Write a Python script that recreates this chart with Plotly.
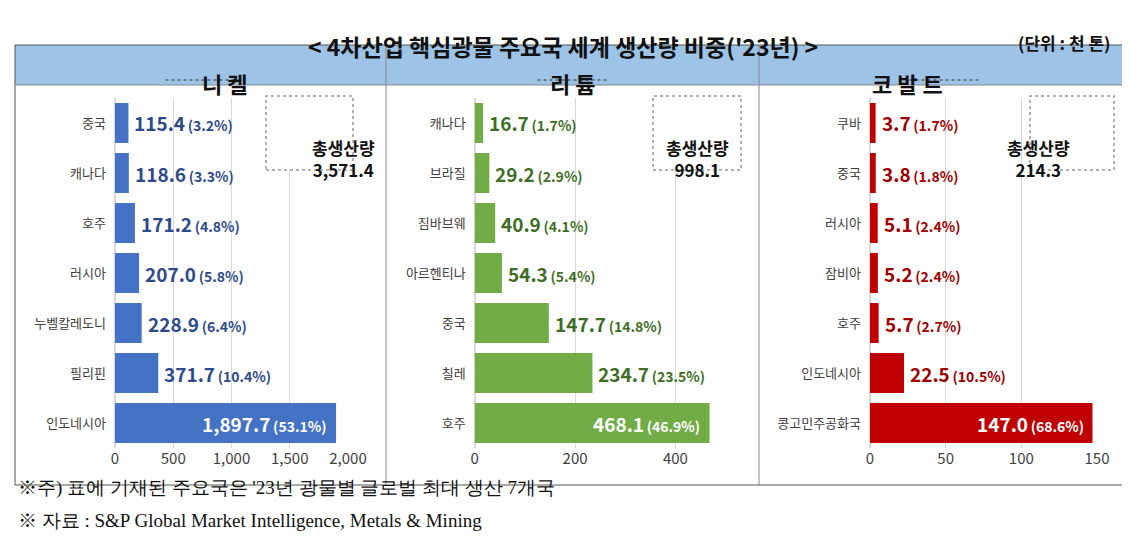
import plotly.graph_objects as go

W, H = 1130, 544
def px(x): return x / W
def py(y): return 1 - y / H

ni_cats = ["중국", "캐나다", "호주", "러시아", "누벨칼레도니", "필리핀", "인도네시아"]
ni_vals = [115.4, 118.6, 171.2, 207.0, 228.9, 371.7, 1897.7]
ni_pct = [3.2, 3.3, 4.8, 5.8, 6.4, 10.4, 53.1]
li_cats = ["캐나다", "브라질", "짐바브웨", "아르헨티나", "중국", "칠레", "호주"]
li_vals = [16.7, 29.2, 40.9, 54.3, 147.7, 234.7, 468.1]
li_pct = [1.7, 2.9, 4.1, 5.4, 14.8, 23.5, 46.9]
co_cats = ["쿠바", "중국", "러시아", "잠비아", "호주", "인도네시아", "콩고민주공화국"]
co_vals = [3.7, 3.8, 5.1, 5.2, 5.7, 22.5, 147.0]
co_pct = [1.7, 1.8, 2.4, 2.4, 2.7, 10.5, 68.6]
titles = ["니 켈", "리 튬", "코 발 트"]
totals = ["3,571.4", "998.1", "214.3"]
ticks = [[0, 500, 1000, 1500, 2000], [0, 200, 400], [0, 50, 100, 150]]

FONT = "Noto Sans CJK KR"
SERIF = "Liberation Serif, DejaVu Serif, serif"
panels = [
    dict(cats=ni_cats, vals=ni_vals, pct=ni_pct, color="#4472C4", dark="#2F4A8A",
         dom=(107, 340), rng=[0, 2000], box=(7, 378), tot=(258, 345)),
    dict(cats=li_cats, vals=li_vals, pct=li_pct, color="#70AD47", dark="#3F6E26",
         dom=(466.7, 705), rng=[0, 475], box=(378, 751), tot=(645, 733)),
    dict(cats=co_cats, vals=co_vals, pct=co_pct, color="#C00000", dark="#A00000",
         dom=(862, 1089), rng=[0, 150], box=(751, 1122), tot=(1022, 1106)),
]

fig = go.Figure()
shapes, anns = [], []
for i, p in enumerate(panels):
    k = "" if i == 0 else str(i + 1)
    n = len(p["cats"])
    fig.add_trace(go.Bar(x=p["vals"], y=p["cats"], orientation="h",
                         marker=dict(color=p["color"], line=dict(width=0)),
                         xaxis="x" + k, yaxis="y" + k,
                         showlegend=False, hoverinfo="skip"))
    fig.update_layout(**{
        "xaxis" + k: dict(domain=[px(p["dom"][0]), px(p["dom"][1])], range=p["rng"],
                          tickvals=ticks[i], tickformat=",", showgrid=True,
                          gridcolor="#D9D9D9", zeroline=True, zerolinecolor="#D9D9D9",
                          tickfont=dict(family=FONT, size=15, color="#404040"),
                          anchor="y" + k, fixedrange=True, automargin=False,
                          showline=False, ticks=""),
        "yaxis" + k: dict(domain=[py(440), py(90)], autorange="reversed",
                          anchor="x" + k, ticks="", ticklabelstandoff=8,
                          tickfont=dict(family=FONT, size=13, color="#404040"),
                          fixedrange=True, automargin=False, showgrid=False,
                          zeroline=False, showline=False),
    })
    for j in range(n):
        v, pc = p["vals"][j], p["pct"][j]
        txt = (f"<span style='font-size:19px'><b>{v:,.1f}</b></span>"
               f" <span style='font-size:14px'><b>({pc}%)</b></span>")
        if j == n - 1:
            anns.append(dict(x=v * 0.97, y=p["cats"][j], xref="x" + k, yref="y" + k,
                             text=txt, showarrow=False, xanchor="right",
                             font=dict(family=FONT, color="white")))
        else:
            anns.append(dict(x=v, y=p["cats"][j], xref="x" + k, yref="y" + k,
                             text=txt, showarrow=False, xanchor="left", xshift=4,
                             font=dict(family=FONT, color=p["dark"])))
    x0, x1 = p["box"]
    shapes.append(dict(type="rect", xref="paper", yref="paper", x0=px(x0), x1=px(x1),
                       y0=py(77), y1=py(37), fillcolor="#9DC3E6", line=dict(width=0), layer="below"))
    anns.append(dict(x=px((x0 + x1) / 2), y=py(57), xref="paper", yref="paper",
                     text=f"<b>{titles[i]}</b>", showarrow=False,
                     font=dict(family=FONT, size=22, color="#111")))
    shapes.append(dict(type="line", xref="paper", yref="paper",
                       x0=px((x0 + x1) / 2 - 35), x1=px((x0 + x1) / 2 + 35),
                       y0=py(72), y1=py(72), line=dict(color="#333", width=1, dash="dot")))
    if i > 0:
        shapes.append(dict(type="line", xref="paper", yref="paper", x0=px(x0), x1=px(x0),
                           y0=py(37), y1=py(477), line=dict(color="#888", width=1)))
    t0, t1 = p["tot"]
    shapes.append(dict(type="rect", xref="paper", yref="paper", x0=px(t0), x1=px(t1),
                       y0=py(162), y1=py(88), fillcolor="white",
                       line=dict(color="#999", width=1.5, dash="dot")))
    anns.append(dict(x=px((t0 + t1) / 2), y=py(125), xref="paper", yref="paper",
                     text=f"<b>총생산량<br>{totals[i]}</b>", showarrow=False,
                     font=dict(family=FONT, size=17, color="#111")))

shapes.append(dict(type="rect", xref="paper", yref="paper", x0=px(7), x1=px(1122),
                   y0=py(477), y1=py(37), line=dict(color="#555", width=1)))
shapes.append(dict(type="line", xref="paper", yref="paper", x0=px(7), x1=px(1122),
                   y0=py(77), y1=py(77), line=dict(color="#888", width=1)))
anns += [
    dict(x=px(555), y=py(19), xref="paper", yref="paper", showarrow=False,
         text="<b>&lt; 4차산업 핵심광물 주요국 세계 생산량 비중('23년) &gt;</b>",
         font=dict(family=FONT, size=23, color="#111")),
    dict(x=px(1105), y=py(20), xref="paper", yref="paper", showarrow=False, xanchor="right",
         text="<b>(단위 : 천 톤)</b>", font=dict(family=FONT, size=17, color="#111")),
    dict(x=px(8), y=py(493), xref="paper", yref="paper", showarrow=False, xanchor="left",
         text="※주) 표에 기재된 주요국은 '23년 광물별 글로벌 최대 생산 7개국",
         font=dict(family=SERIF, size=19, color="#111")),
    dict(x=px(8), y=py(525), xref="paper", yref="paper", showarrow=False, xanchor="left",
         text="※ 자료 : S&amp;P Global Market Intelligence, Metals &amp; Mining",
         font=dict(family=SERIF, size=19, color="#111")),
]
fig.update_layout(width=W, height=H, margin=dict(l=0, r=0, t=0, b=0, autoexpand=False),
                  paper_bgcolor="white", plot_bgcolor="white", bargap=0.2,
                  shapes=shapes, annotations=anns)
fig.write_html("out.html")
